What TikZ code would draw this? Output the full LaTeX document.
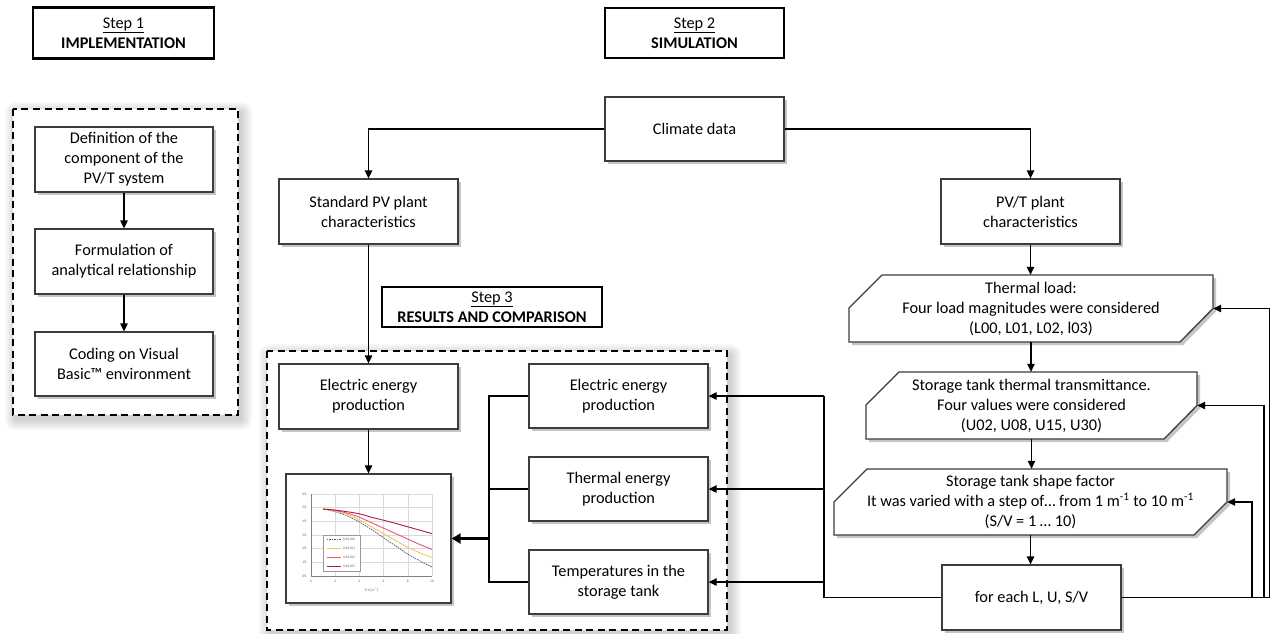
\documentclass[tikz,border=0pt]{standalone}
\usepackage{fontspec}
\setmainfont{Carlito}
\usetikzlibrary{arrows.meta,shadows,calc}
\definecolor{boxgray}{RGB}{60,60,60}
\definecolor{cdark}{RGB}{165,30,65}
\definecolor{cpink}{RGB}{235,85,125}
\definecolor{cyell}{RGB}{245,200,90}
\definecolor{cdash}{RGB}{80,90,135}
\newcommand\mycut[5]{%
  \path[fill=black!45,opacity=.5,shift={(3pt,-3pt)}] (#1,#2+#5) -- (#1+#5,#2) -- (#3,#2) -- (#3,{(#2+#4)/2}) -- (#3-#5,#4) -- (#1,#4) -- cycle;
  \path[boxline,fill=white] (#1,#2+#5) -- (#1+#5,#2) -- (#3,#2) -- (#3,{(#2+#4)/2}) -- (#3-#5,#4) -- (#1,#4) -- cycle;}
\newcommand\myglow[4]{%
  \foreach \d in {1,3,5,7,9,11}{\fill[black,opacity=0.03,rounded corners=\d pt] (#1-\d+3,#2-\d+4) rectangle (#3+\d+3,#4+\d+4);}
  \fill[white] (#1,#2) rectangle (#3,#4);
  \draw[dashbox] (#1,#2) rectangle (#3,#4);}
\begin{document}
\begin{tikzpicture}[x=1pt,y=-1pt,
  every node/.style={font=\fontsize{16.3}{20}\selectfont},
  boxline/.style={draw=boxgray, line width=1.3pt},
  box/.style={boxline, fill=white, minimum width=179pt, minimum height=65pt, align=center, inner sep=2pt,
    drop shadow={shadow xshift=3pt,shadow yshift=-3pt,fill=black!45,opacity=0.5}},
  hextext/.style={align=center, inner sep=0pt},
  stepbox/.style={draw=black, line width=2.6pt, fill=white, align=center, inner sep=0pt},
  conn/.style={draw=black, line width=1.3pt},
  arr/.style={conn, -{Triangle[length=8pt,width=7.5pt]}},
  bigarr/.style={draw=black, line width=2.6pt, -{Triangle[length=9pt,width=10pt]}},
  dashbox/.style={draw=black, line width=1.3pt, dash pattern=on 7pt off 4.5pt},
  tiny/.style={font=\fontsize{3.6}{4}\selectfont, text=black!60, inner sep=0.5pt}
]
\useasboundingbox (0,0) rectangle (1271,633);
\fill[white] (0,0) rectangle (1271,633);

% containers
\myglow{13}{109}{238}{415}
\myglow{267}{351}{727}{630}

% step headers
\node[stepbox, minimum width=181pt, minimum height=51pt] (s1) at (123.5,33) {\underline{Step 1}\\\textbf{IMPLEMENTATION}};
\node[stepbox, minimum width=179pt, minimum height=50pt] (s2) at (694.5,33) {\underline{Step 2}\\\textbf{SIMULATION}};
\node[stepbox, minimum width=220pt, minimum height=40pt] (s3) at (492,307) {\underline{Step 3}\\\textbf{RESULTS AND COMPARISON}};

% step 1 boxes
\node[box, minimum width=178pt] (b1) at (124,159.5) {Definition of the\\component of the\\PV/T system};
\node[box, minimum width=178pt] (b2) at (124,261.5) {Formulation of\\analytical relationship};
\node[box, minimum width=178pt, minimum height=64pt] (b3) at (124,364) {Coding on Visual\\Basic™ environment};
\draw[arr] (b1.south) -- (b2.north);
\draw[arr] (b2.south) -- (b3.north);

% step 2 boxes
\node[box, minimum height=64pt] (cd) at (694.5,129) {Climate data};
\node[box] (sp) at (368.5,211.5) {Standard PV plant\\characteristics};
\node[box] (pt) at (1030.5,211.5) {PV/T plant\\characteristics};

% cut shapes
\mycut{849}{275}{1213}{342}{33}
\mycut{866}{372}{1197}{439}{33}
\mycut{834}{469}{1227}{535}{33}
\node[hextext, minimum width=364pt, minimum height=67pt] (tl) at (1031,308.5) {Thermal load:\\Four load magnitudes were considered\\(L00, L01, L02, l03)};
\node[hextext, minimum width=331pt, minimum height=67pt] (su) at (1031.5,405.5) {Storage tank thermal transmittance.\\Four values were considered\\(U02, U08, U15, U30)};
\node[hextext, minimum width=393pt, minimum height=66pt] (sf) at (1030.5,502) {Storage tank shape factor\\It was varied with a step of… from 1 m\textsuperscript{-1} to 10 m\textsuperscript{-1}\\(S/V = 1 … 10)};
\node[box, minimum height=65pt] (fe) at (1031.5,597.5) {for each L, U, S/V};

% step 3 boxes
\node[box] (le) at (368.5,396.5) {Electric energy\\production};
\node[box, minimum height=64pt] (ra) at (618.5,396) {Electric energy\\production};
\node[box, minimum height=64pt] (rb) at (618.5,489) {Thermal energy\\production};
\node[box, minimum height=64pt] (rc) at (618.5,582) {Temperatures in the\\storage tank};
\node[box, minimum width=165pt, minimum height=129pt, inner sep=0pt] (ch) at (368.5,538.5) {};

% chart
\begin{scope}[shift={(311,576)}, x=12.1pt, y=13.67pt]
  \draw[black!15, line width=0.4pt] (0,0) grid[xstep=2,ystep=1] (10,6);
  \draw[black!50, line width=0.5pt] (0,6) -- (0,0) -- (10,0);
  \foreach \v in {0,...,6}{\node[tiny, left] (yl\v) at (-0.3,\v) {\v\%};}
  \foreach \v in {0,2,...,10}{\node[tiny, below] (xl\v) at (\v,-0.25) {\v};}
  \node[tiny, below] (xt) at (5,-0.85) {S/V [m\textsuperscript{-1}]};
  \draw[cdash, line width=0.8pt, dash pattern=on 1.5pt off 1pt] plot[smooth] coordinates {(1,4.9) (2,4.7) (3,4.4) (4,3.95) (5,3.4) (6,2.8) (7,2.2) (8,1.6) (9,1.1) (10,0.65)};
  \draw[cyell, line width=0.9pt] plot[smooth] coordinates {(1,4.9) (2,4.75) (3,4.5) (4,4.1) (5,3.6) (6,3.1) (7,2.6) (8,2.1) (9,1.7) (10,1.35)};
  \draw[cpink, line width=0.9pt] plot[smooth] coordinates {(1,4.9) (2,4.8) (3,4.6) (4,4.3) (5,3.9) (6,3.5) (7,3.1) (8,2.7) (9,2.3) (10,1.95)};
  \draw[cdark, line width=0.9pt] plot[smooth] coordinates {(1,4.9) (2,4.82) (3,4.7) (4,4.55) (5,4.3) (6,4.08) (7,3.85) (8,3.6) (9,3.35) (10,3.1)};
  \draw[black!40, fill=white, line width=0.4pt] (1,3.0) rectangle (4.1,0.37);
  \draw[cdash, line width=0.8pt, dash pattern=on 1.5pt off 1pt] (1.3,2.7) -- (2.5,2.7);
  \draw[cyell, line width=0.9pt] (1.3,2.03) -- (2.5,2.03);
  \draw[cpink, line width=0.9pt] (1.3,1.37) -- (2.5,1.37);
  \draw[cdark, line width=0.9pt] (1.3,0.68) -- (2.5,0.68);
  \node[tiny, right] (lg1) at (2.6,2.7) {U30 L00};
  \node[tiny, right] (lg2) at (2.6,2.03) {U30 L01};
  \node[tiny, right] (lg3) at (2.6,1.37) {U30 L02};
  \node[tiny, right] (lg4) at (2.6,0.68) {U30 L03};
\end{scope}

% connectors
\draw[arr] (cd.west) -| (sp.north);
\draw[arr] (cd.east) -| (pt.north);
\draw[arr] (sp.south) -- (le.north);
\draw[arr] (le.south) -- (ch.north);
\draw[arr] (pt.south) -- (pt.south |- tl.north);
\draw[arr] (tl.south) -- (tl.south |- su.north);
\draw[arr] (su.south) -- (su.south |- sf.north);
\draw[arr] (sf.south) -- (sf.south |- fe.north);

\coordinate (o1) at (1269.5,0);
\coordinate (o2) at (1264,0);
\coordinate (o3) at (1252,0);
\draw[arr] (fe.east) -- (fe.east -| o1) |- (tl.east);
\draw[arr] (fe.east -| o2) |- (su.east);
\draw[arr] (fe.east -| o3) |- (sf.east);

\coordinate (bl) at (824,0);
\draw[conn] (fe.west) -| (ra.east -| bl);
\draw[arr] (ra.east -| bl) -- (ra.east);
\draw[arr] (rb.east -| bl) -- (rb.east);
\draw[arr] (rc.east -| bl) -- (rc.east);

\coordinate (bus) at (489,0);
\draw[conn] (ra.west) -- (ra.west -| bus) -- (rc.west -| bus) -- (rc.west);
\draw[conn] (rb.west) -- (rb.west -| bus);
\draw[bigarr] (ch.east -| bus) -- (ch.east);
\end{tikzpicture}
\end{document}
